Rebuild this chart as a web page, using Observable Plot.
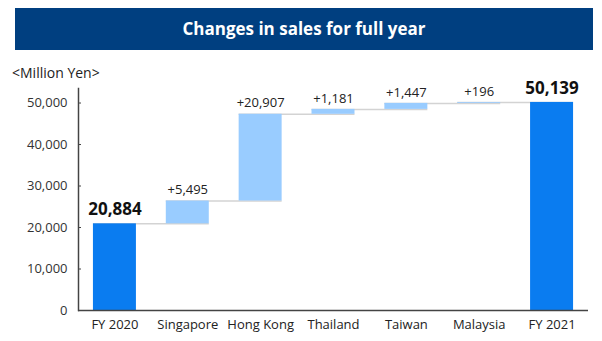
<!DOCTYPE html>
<html>
<head>
<meta charset="utf-8">
<script src="https://cdn.jsdelivr.net/npm/d3@7"></script>
<script src="https://cdn.jsdelivr.net/npm/@observablehq/plot@0.6"></script>
<style>
  html, body { margin: 0; padding: 0; background: #fff; }
  #wrap { position: relative; width: 602px; height: 341px; font-family: "Open Sans", sans-serif; }
  #title { position: absolute; left: 15px; top: 8px; width: 578px; height: 42px; background: #003F80;
           color: #fff; font-weight: 700; font-size: 17px; line-height: 42px; text-align: center; }
  #unit { position: absolute; left: 12px; top: 63px; font-size: 14px; color: #222; }
  #chart { position: absolute; left: 0; top: 0; }
</style>
</head>
<body>
<div id="wrap">
  <div id="chart"></div>
  <div id="title">Changes in sales for full year</div>
  <div id="unit">&lt;Million Yen&gt;</div>
</div>
<script>
const categories = ["FY 2020", "Singapore", "Hong Kong", "Thailand", "Taiwan", "Malaysia", "FY 2021"];
const values = [20884, 5495, 20907, 1181, 1447, 196, 50139];
const kinds = ["total", "change", "change", "change", "change", "change", "total"];
const yTicks = [0, 10000, 20000, 30000, 40000, 50000];

const fmt = d3.format(",");
let running = 0;
const rows = categories.map((c, i) => {
  let y1, y2;
  if (kinds[i] === "total") { y1 = 0; y2 = values[i]; running = values[i]; }
  else { y1 = running; y2 = running + values[i]; running = y2; }
  return {
    cat: c, kind: kinds[i], y1, y2,
    label: kinds[i] === "total" ? fmt(values[i]) : "+" + fmt(values[i])
  };
});
const connectors = rows.slice(0, -1).map((r, i) => ({ a: r.cat, b: rows[i + 1].cat, y: r.y2 }));

const plot = Plot.plot({
  width: 602,
  height: 341,
  marginTop: 88,
  marginBottom: 31,
  marginLeft: 78,
  marginRight: 14,
  style: { fontFamily: "Open Sans, sans-serif", fontSize: "13px", color: "#333", background: "transparent" },
  x: { domain: categories, paddingInner: 0.41, paddingOuter: 0.205, round: false, label: null },
  y: { domain: [0, 53500], label: null },
  color: { domain: ["total", "change"], range: ["#0A7CF0", "#99CCFF"] },
  marks: [
    Plot.ruleY(connectors, { x1: "a", x2: "b", y: "y", stroke: "#D3D3D3", strokeWidth: 1.5 }),
    Plot.barY(rows, { x: "cat", y1: "y1", y2: "y2", fill: "kind" }),
    Plot.text(rows.filter(d => d.kind === "total"), {
      x: "cat", y: "y2", text: "label", dy: -14, fontSize: 17, fontWeight: "bold", fill: "#111"
    }),
    Plot.text(rows.filter(d => d.kind === "change"), {
      x: "cat", y: "y2", text: "label", dy: -11, fontSize: 13, fill: "#222"
    }),
    Plot.axisY({ ticks: yTicks, tickFormat: d3.format(","), tickSize: -3, tickPadding: 14, stroke: "#444", fill: "#333", fontSize: 13 }),
    Plot.axisX({ tickSize: 0, tickPadding: 9, fill: "#222", fontSize: 13 }),
    Plot.frame({ anchor: "left", stroke: "#444", strokeWidth: 1.5 }),
    Plot.ruleY([0], { stroke: "#444", strokeWidth: 1.5 })
  ]
});
document.getElementById("chart").appendChild(plot);
</script>
</body>
</html>
